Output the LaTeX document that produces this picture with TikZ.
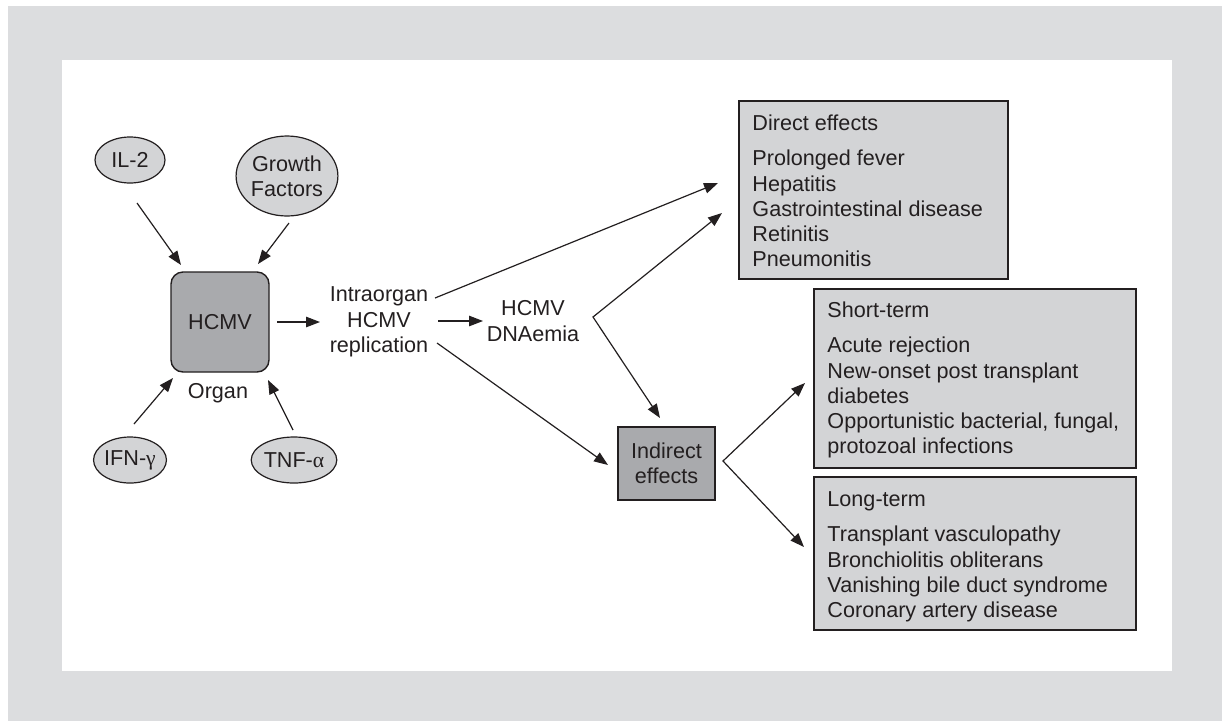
\documentclass[tikz,border=0pt]{standalone}
\usepackage{fontspec}
\setmainfont{Liberation Sans}
\newfontfamily\grk{Liberation Serif}
\usetikzlibrary{arrows.meta,shapes.geometric}
\definecolor{outerg}{HTML}{DCDDDF}
\definecolor{lightf}{HTML}{D3D4D6}
\definecolor{darkf}{HTML}{A9AAAD}
\definecolor{ink}{HTML}{231F20}
\begin{document}
\begin{tikzpicture}[x=1pt,y=-1pt,
  font=\fontsize{21.6}{25.3}\selectfont,
  ell/.style={ellipse, draw=ink, line width=1.2pt, fill=lightf, inner sep=0pt, align=center, text=ink},
  hbox/.style={rectangle, rounded corners=12pt, draw=ink, line width=1.4pt, fill=darkf, inner sep=0pt, text=ink},
  ibox/.style={rectangle, draw=ink, line width=1.4pt, fill=darkf, inner sep=0pt, align=center, text=ink},
  ebox/.style={rectangle, draw=ink, line width=1.5pt, fill=lightf, inner sep=0pt},
  etext/.style={anchor=north west, align=left, inner sep=0pt, text=ink},
  lbl/.style={align=center, inner sep=0pt, text=ink},
  arr/.style={draw=ink, line width=1.2pt, -{Triangle[length=14pt,width=10.5pt]}},
  darr/.style={draw=ink, line width=1.2pt, {Triangle[length=14pt,width=10.5pt]}-{Triangle[length=14pt,width=10.5pt]}}
]
\useasboundingbox (0,0) rectangle (1222,721);
\fill[white] (0,0) rectangle (1222,721);
\fill[outerg] (8,6) rectangle (1222,721);
\fill[white] (62,60) rectangle (1172,671);

% left cluster
\node[ell, minimum width=70pt, minimum height=46pt] (il2) at (130,160) {IL-2};
\node[ell, minimum width=100pt, minimum height=80pt] (gf) at (287,176) {Growth\\Factors};
\node[ell, minimum width=70pt, minimum height=46pt] (ifn) at (130,460) {IFN-{\grk γ}};
\node[ell, minimum width=70pt, minimum height=46pt] (tnf) at (294,460) {TNF-{\grk α}};
\node[hbox, minimum width=98pt, minimum height=100pt] (hcmv) at (220,322) {HCMV};
\node[lbl] (organ) at (218,393) {Organ};

\node[lbl] (intra) at (379,322) {Intraorgan\\HCMV\\replication};
\node[lbl] (dna) at (533,321) {HCMV\\DNAemia};
\node[ibox, minimum width=97pt, minimum height=73pt] (indirect) at (666.5,463.5) {Indirect\\effects};

% right boxes
\node[ebox, minimum width=269pt, minimum height=178pt] (direct) at (873.5,190) {};
\node[etext] (directt) at ([shift={(14,14)}]direct.north west)
  {\rule{0pt}{16pt}Direct effects\\[10pt]Prolonged fever\\Hepatitis\\Gastrointestinal disease\\Retinitis\\Pneumonitis};
\node[ebox, minimum width=322pt, minimum height=179pt] (short) at (975,378.5) {};
\node[etext] (shortt) at ([shift={(14,13)}]short.north west)
  {\rule{0pt}{16pt}Short-term\\[10pt]Acute rejection\\New-onset post transplant\\diabetes\\Opportunistic bacterial, fungal,\\protozoal infections};
\node[ebox, minimum width=322pt, minimum height=153pt] (long) at (975,553.5) {};
\node[etext] (longt) at ([shift={(14,14)}]long.north west)
  {\rule{0pt}{16pt}Long-term\\[10pt]Transplant vasculopathy\\Bronchiolitis obliterans\\Vanishing bile duct syndrome\\Coronary artery disease};

% connector end points
\coordinate (il2s) at (137,203);  \coordinate (il2e) at (181,265);
\coordinate (gfs) at (289,223);   \coordinate (gfe) at (258,264);
\coordinate (ifns) at (134,424);  \coordinate (ifne) at (173,378);
\coordinate (tnfs) at (293,430);  \coordinate (tnfe) at (268,380);
\coordinate (hcs) at (277,322);   \coordinate (hce) at (320,322);
\coordinate (in1s) at (435,298);  \coordinate (in1e) at (718,183);
\coordinate (in2s) at (438,321);  \coordinate (in2e) at (483,321);
\coordinate (in3s) at (437,343);  \coordinate (in3e) at (608,465);
\coordinate (dnav) at (593,317);  \coordinate (dnaa) at (722,213); \coordinate (dnab) at (660,418);
\coordinate (indv) at (723,461);  \coordinate (inda) at (805,383); \coordinate (indb) at (804,547);

\draw[arr] (il2s) -- (il2e);
\draw[arr] (gfs) -- (gfe);
\draw[arr] (ifns) -- (ifne);
\draw[arr] (tnfs) -- (tnfe);
\draw[arr] (hcs) -- (hce);
\draw[arr] (in1s) -- (in1e);
\draw[arr] (in2s) -- (in2e);
\draw[arr] (in3s) -- (in3e);
\draw[darr] (dnaa) -- (dnav) -- (dnab);
\draw[darr] (inda) -- (indv) -- (indb);
\end{tikzpicture}
\end{document}
